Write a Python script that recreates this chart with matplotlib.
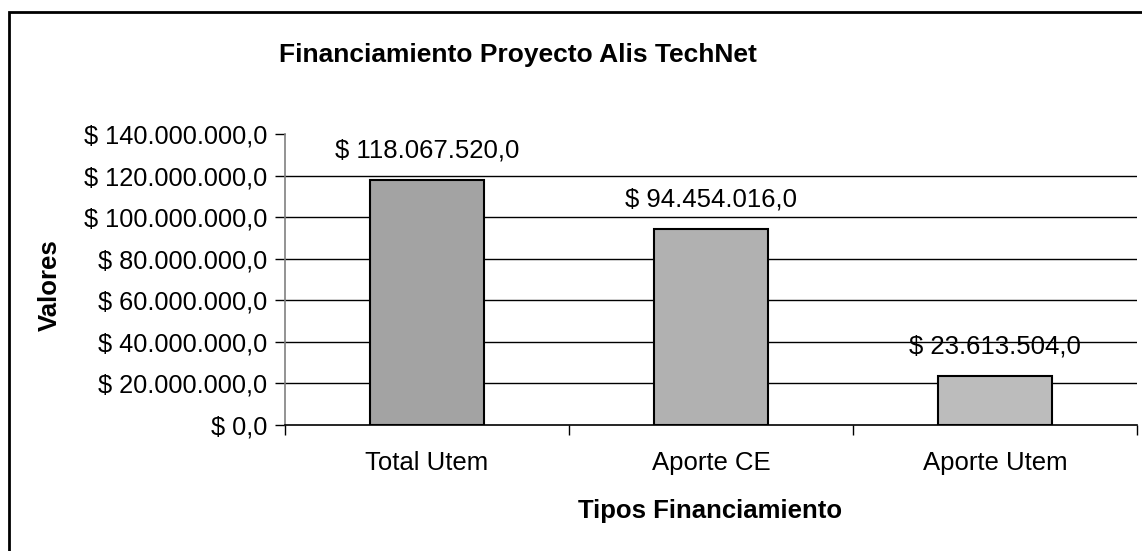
import matplotlib
matplotlib.use("Agg")
import matplotlib.pyplot as plt
from matplotlib.patches import Rectangle
from matplotlib.ticker import FuncFormatter

categories = ["Total Utem", "Aporte CE", "Aporte Utem"]
values = [118067520.0, 94454016.0, 23613504.0]
bar_colors = ["#a3a3a3", "#b1b1b1", "#bcbcbc"]
y_ticks = [0, 20000000, 40000000, 60000000, 80000000, 100000000, 120000000, 140000000]
title = "Financiamiento Proyecto Alis TechNet"
x_label = "Tipos Financiamiento"
y_label = "Valores"

plt.rcParams['font.family'] = ['Liberation Sans', 'DejaVu Sans']


def fmt_money(v, pos=None):
    s = f"{v:,.1f}"
    s = s.replace(",", "X").replace(".", ",").replace("X", ".")
    return "$ " + s


fig = plt.figure(figsize=(11.42, 5.51), dpi=100)
fig.patch.set_facecolor("white")
# outer chart border
fig.patches.append(Rectangle((9 / 1142, -0.05), 1.2, 1 - 12 / 551 + 0.05,
                             transform=fig.transFigure, fill=False,
                             edgecolor="black", linewidth=2))

ax = fig.add_axes([285 / 1142, 126 / 551, 852 / 1142, 291 / 551])
x = list(range(len(categories)))
ax.bar(x, values, width=0.4, color=bar_colors, edgecolor="black",
       linewidth=1.5, zorder=3)

ax.set_xlim(-0.5, len(categories) - 0.5)
ax.set_ylim(0, 140000000)
ax.set_yticks(y_ticks)
ax.yaxis.set_major_formatter(FuncFormatter(fmt_money))
for yt in y_ticks[1:-1]:
    ax.axhline(yt, color="black", linewidth=1, zorder=1)

# x ticks at category boundaries, labels at centers
ax.set_xticks([i - 0.5 for i in range(len(categories) + 1)])
ax.set_xticklabels([""] * (len(categories) + 1))
ax.set_xticks(x, minor=True)
ax.set_xticklabels(categories, minor=True)
ax.tick_params(axis="x", which="major", direction="out", length=7,
               width=1, color="black")
ax.tick_params(axis="x", which="minor", length=0, pad=19, labelsize=18.5)
ax.tick_params(axis="y", direction="out", length=7, width=1, color="black",
               pad=6, labelsize=18.3)

for side in ["top", "right"]:
    ax.spines[side].set_visible(False)
ax.spines["left"].set_color("#808080")
ax.spines["left"].set_linewidth(1.2)
ax.spines["bottom"].set_color("black")
ax.spines["bottom"].set_linewidth(1.2)

for xi, v in zip(x, values):
    ax.annotate(fmt_money(v), (xi, v), xytext=(0, 21), textcoords="offset points",
                ha="center", va="center", fontsize=18.5)

ax.set_ylabel(y_label, fontsize=18.5, fontweight="bold")
ax.yaxis.set_label_coords(-0.262, 0.48)
ax.set_xlabel(x_label, fontsize=18.5, fontweight="bold")
ax.xaxis.set_label_coords(0.499, -0.255)

fig.text(518 / 1142, 1 - 55 / 551, title, ha="center", va="center",
         fontsize=19, fontweight="bold")

fig.savefig("out.png", dpi=100)
